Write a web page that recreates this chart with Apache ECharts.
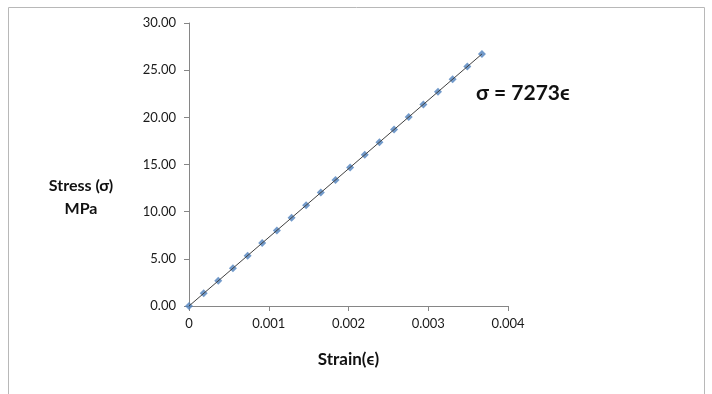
<!DOCTYPE html>
<html>
<head>
<meta charset="utf-8">
<script src="https://cdn.jsdelivr.net/npm/echarts@6/dist/echarts.min.js"></script>
<style>
  html, body { margin: 0; padding: 0; background: #fff; }
  #chart { width: 712px; height: 394px; }
</style>
</head>
<body>
<div id="chart"></div>
<script>
// strain values
var strain = [0, 0.000184, 0.000367, 0.000551, 0.000735, 0.000918, 0.001102, 0.001286,
  0.001469, 0.001653, 0.001837, 0.002020, 0.002204, 0.002388, 0.002571, 0.002755,
  0.002939, 0.003122, 0.003306, 0.003490, 0.003673];
// stress in MPa
var stress = [0, 1.34, 2.67, 4.01, 5.34, 6.68, 8.01, 9.35, 10.69, 12.02, 13.36,
  14.69, 16.03, 17.36, 18.70, 20.04, 21.37, 22.71, 24.04, 25.38, 26.71];
// trendline end points
var trendX = [0, 0.003673];
var trendY = [0, 26.71];

var points = strain.map(function (s, i) { return [s, stress[i]]; });
var trend = trendX.map(function (s, i) { return [s, trendY[i]]; });

var myChart = echarts.init(document.getElementById('chart'));
var font = 'Lato, "Open Sans", sans-serif';

myChart.setOption({
  animation: false,
  textStyle: { fontFamily: font },
  grid: { left: 189, top: 23, right: 204, bottom: 88 },
  graphic: [
    {
      type: 'rect',
      shape: { x: 8.5, y: 7.5, width: 696, height: 400 },
      style: { fill: 'none', stroke: '#b8b8b8', lineWidth: 1 }
    },
    {
      type: 'text',
      x: 81, y: 186,
      style: {
        text: 'Stress (σ)', fontSize: 16, fontWeight: 'bold',
        fontFamily: font, fill: '#111', align: 'center', verticalAlign: 'middle'
      }
    },
    {
      type: 'text',
      x: 81, y: 209,
      style: {
        text: 'MPa', fontSize: 16, fontWeight: 'bold',
        fontFamily: font, fill: '#111', align: 'center', verticalAlign: 'middle'
      }
    },
    {
      type: 'text',
      x: 476, y: 93,
      style: {
        text: 'σ = 7273ϵ', fontSize: 21, fontWeight: 'bold',
        fontFamily: font, fill: '#111', verticalAlign: 'middle'
      }
    }
  ],
  xAxis: {
    type: 'value',
    min: 0, max: 0.004, interval: 0.001,
    name: 'Strain(ϵ)',
    nameLocation: 'middle',
    nameGap: 45,
    nameTextStyle: { fontSize: 17, fontWeight: 'bold', color: '#111', fontFamily: font },
    axisLine: { show: true, lineStyle: { color: '#868686' } },
    axisTick: { show: true, length: 5, lineStyle: { color: '#868686' } },
    axisLabel: {
      color: '#1a1a1a', fontSize: 13, margin: 11,
      formatter: function (v) { return v === 0 ? '0' : v.toFixed(3); }
    },
    splitLine: { show: false }
  },
  yAxis: {
    type: 'value',
    min: 0, max: 30, interval: 5,
    axisLine: { show: true, lineStyle: { color: '#868686' } },
    axisTick: { show: true, length: 5, lineStyle: { color: '#868686' } },
    axisLabel: {
      color: '#1a1a1a', fontSize: 13, margin: 13,
      formatter: function (v) { return v.toFixed(2); }
    },
    splitLine: { show: false }
  },
  series: [
    {
      type: 'scatter',
      data: points,
      symbol: 'diamond',
      symbolSize: 8,
      itemStyle: { color: '#4f81bd' },
      z: 2
    },
    {
      type: 'line',
      data: trend,
      showSymbol: false,
      lineStyle: { color: '#404040', width: 1 },
      z: 3
    }
  ]
});
</script>
</body>
</html>
